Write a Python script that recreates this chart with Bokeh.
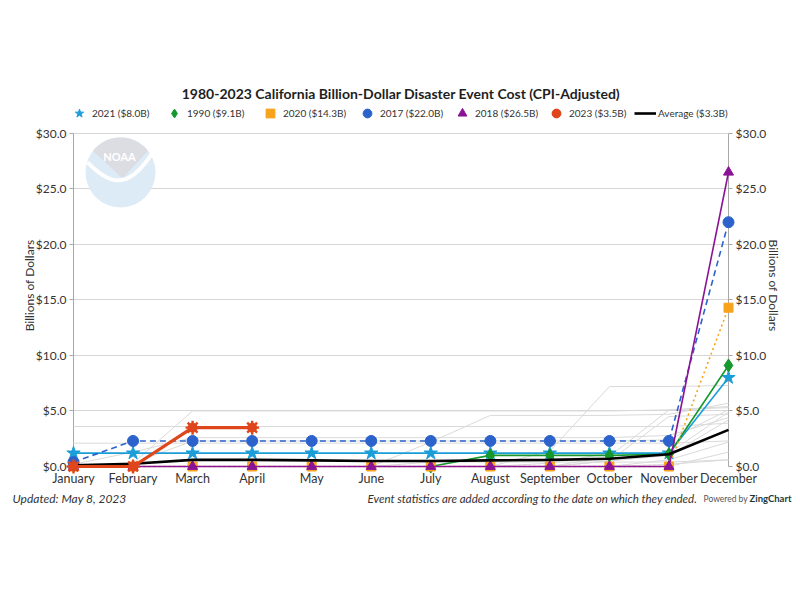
import numpy as np
from bokeh.plotting import figure
from bokeh.models import (Range1d, LinearAxis, FixedTicker, NumeralTickFormatter,
                          Legend, LegendItem)
from bokeh.embed import file_html
from bokeh.resources import INLINE
from bokeh.core.properties import value

# ---- data (cumulative cost in billions of CPI-adjusted dollars) ----
months = ["January", "February", "March", "April", "May", "June",
          "July", "August", "September", "October", "November", "December"]
y_ticks = [0, 5, 10, 15, 20, 25, 30]

cost_2021 = [1.2, 1.2, 1.2, 1.2, 1.2, 1.2, 1.2, 1.2, 1.2, 1.2, 1.2, 8.0]
cost_1990 = [None, None, None, None, None, None, 0.0, 1.0, 1.0, 1.0, 1.1, 9.1]
cost_2020 = [0.0, 0.0, 0.0, 0.0, 0.0, 0.0, 0.0, 0.0, 0.0, 0.0, 0.0, 14.3]
cost_2017 = [0.4, 2.3, 2.3, 2.3, 2.3, 2.3, 2.3, 2.3, 2.3, 2.3, 2.3, 22.0]
cost_2018 = [0.0, 0.0, 0.0, 0.0, 0.0, 0.0, 0.0, 0.0, 0.0, 0.0, 0.0, 26.5]
cost_2023 = [0.0, 0.0, 3.5, 3.5, None, None, None, None, None, None, None, None]
cost_avg = [0.1, 0.25, 0.6, 0.6, 0.55, 0.5, 0.5, 0.55, 0.6, 0.7, 1.1, 3.3]

# remaining years of the 1980-2023 record, drawn as a faint background
other_years = [
    [0.0, 0.3, 5.0, 5.0, 5.0, 5.0, 5.0, 5.0, 5.0, 5.0, 5.1, 5.4],
    [0.0, 0.0, 0.0, 0.0, 0.0, 0.0, 2.2, 4.6, 4.6, 4.6, 4.7, 5.7],
    [0.0, 0.0, 0.0, 0.0, 0.0, 0.0, 0.0, 0.0, 1.4, 7.2, 7.2, 7.3],
    [0.2, 1.3, 2.6, 2.6, 2.6, 2.6, 2.6, 2.6, 2.6, 2.6, 2.8, 4.4],
    [3.6, 3.6, 3.6, 3.6, 3.6, 3.6, 3.6, 3.6, 3.6, 3.6, 3.6, 3.9],
    [2.1, 2.1, 2.1, 2.1, 2.1, 2.1, 2.1, 2.1, 2.1, 2.1, 2.1, 2.3],
    [0.0, 0.0, 0.0, 0.0, 0.0, 0.0, 0.0, 0.0, 0.3, 1.2, 1.2, 4.9],
    [0.0, 0.0, 0.0, 0.0, 0.0, 0.0, 0.0, 0.0, 0.0, 0.5, 1.0, 4.2],
    [0.0, 0.0, 0.0, 0.0, 0.0, 0.0, 0.0, 0.0, 0.0, 0.0, 0.6, 2.2],
    [0.0, 0.0, 0.0, 0.0, 0.0, 0.0, 0.0, 0.0, 0.0, 0.0, 0.0, 1.3],
    [0.0, 0.0, 0.0, 0.0, 0.0, 0.0, 0.4, 0.4, 0.4, 0.4, 0.4, 0.6],
    [0.0, 0.3, 2.3, 2.3, 2.3, 2.3, 2.3, 2.3, 2.3, 2.3, 2.4, 5.1],
    [0.0, 0.0, 0.0, 0.0, 0.0, 0.0, 0.0, 0.0, 0.0, 0.9, 5.1, 5.3],
    [0.0, 0.0, 0.0, 0.0, 0.0, 0.0, 0.0, 0.0, 0.0, 0.5, 4.5, 4.7],
    [0.0, 0.0, 0.0, 0.0, 0.0, 0.0, 0.0, 0.0, 0.0, 0.0, 0.2, 0.6],
]

x = np.arange(len(months))
last = len(months) - 1


def arr(v):
    return np.array([np.nan if a is None else a for a in v], dtype=float)


FONT = "Lato"
TITLE = "1980-2023 California Billion-Dollar Disaster Event Cost (CPI-Adjusted)"
TOP = "overlay"  # draw series above the frame clip so edge markers stay whole

# frame spans January..December and $0..$32.6B (room for the legend row on top)
p = figure(width=800, height=600, output_backend="svg", toolbar_location=None,
           x_range=Range1d(0, last), y_range=Range1d(0, 32.6),
           min_border_left=73, min_border_right=72, min_border_top=104,
           min_border_bottom=134, title=TITLE)
p.outline_line_color = None
p.background_fill_color = "white"
p.xgrid.visible = False
p.ygrid.ticker = FixedTicker(ticks=y_ticks)
p.ygrid.grid_line_color = "#d6d6d6"

p.title.align = "center"
p.title.text_font = FONT
p.title.text_font_size = "14px"
p.title.text_color = "#1e1e1e"
p.title.standoff = 6


# ---- NOAA emblem (decoration, upper left of the plot area) ----
def px(xp):
    return (xp - 73) / (655 / 11)


def py(yp):
    return (466 - yp) / (333 / 30)


cx, cy, r = 120, 172, 35
p.scatter([px(cx)], [py(cy)], size=2 * r, marker="circle",
          fill_color="#dcebf6", line_color=None)
ang = np.linspace(np.radians(142), np.radians(38), 30)
gx = [px(cx + r * np.cos(a)) for a in ang] + [px(cx + 2)]
gy = [py(cy - r * np.sin(a)) for a in ang] + [py(cy + 6)]
p.patch(gx, gy, fill_color="#dcdde3", line_color=None)
sw = np.linspace(0, 1, 30)
swx = [px(cx - 33 + 66 * t) for t in sw]
swy = [py(cy - 10 + 24 * np.sin(np.pi * t * 0.85) - 22 * t * t) for t in sw]
p.line(swx, swy, line_color="white", line_width=4, line_alpha=0.95)
p.text([px(cx - 1)], [py(cy - 16)], text=["NOAA"], text_align="center",
       text_baseline="middle", text_font=value(FONT), text_font_style="bold",
       text_font_size="11px", text_color="white")

# ---- background years ----
for yr in other_years:
    p.line(x, arr(yr), line_color="#dadada", line_width=1, level=TOP)

# ---- highlighted years ----
items = []

c = "#1b9dd8"
p.line(x, arr(cost_2021), line_color=c, line_width=1.6, level=TOP)
m1 = p.scatter(x, arr(cost_2021), marker="star", size=14, fill_color=c, line_color=c, level=TOP)
items.append(LegendItem(label="2021 ($8.0B)", renderers=[m1]))

c = "#16982c"
p.line(x, arr(cost_1990), line_color=c, line_width=1.6, level=TOP)
m2 = p.scatter(x, arr(cost_1990), marker="diamond", size=13, fill_color=c, line_color=c, level=TOP)
items.append(LegendItem(label="1990 ($9.1B)", renderers=[m2]))

c = "#f7a31c"
p.line(x, arr(cost_2020), line_color=c, line_width=1.6, line_dash="2 3", level=TOP)
m3 = p.scatter(x, arr(cost_2020), marker="square", size=9, fill_color=c, line_color=c, level=TOP)
items.append(LegendItem(label="2020 ($14.3B)", renderers=[m3]))

c = "#2b62cb"
p.line(x, arr(cost_2017), line_color=c, line_width=1.6, line_dash="6 4", level=TOP)
m4 = p.scatter(x, arr(cost_2017), marker="circle", size=11, fill_color=c, line_color=c, level=TOP)
items.append(LegendItem(label="2017 ($22.0B)", renderers=[m4]))

c = "#8a1396"
p.line(x, arr(cost_2018), line_color=c, line_width=1.6, level=TOP)
m5 = p.scatter(x, arr(cost_2018), marker="triangle", size=10, fill_color=c, line_color=c, level=TOP)
items.append(LegendItem(label="2018 ($26.5B)", renderers=[m5]))

la = p.line(x, arr(cost_avg), line_color="black", line_width=2.6, level=TOP)

c = "#e0461c"
p.line(x, arr(cost_2023), line_color=c, line_width=3.2, level=TOP)
m6a = p.scatter(x, arr(cost_2023), marker="circle", size=9, fill_color=c, line_color=c, level=TOP)
m6b = p.scatter(x, arr(cost_2023), marker="asterisk", size=14, line_color=c, line_width=2.4, level=TOP)
items.append(LegendItem(label="2023 ($3.5B)", renderers=[m6a, m6b]))
items.append(LegendItem(label="Average ($3.3B)", renderers=[la]))

# one legend entry per slot so the row keeps an even pitch
slot_px = [79, 174, 270, 367, 462, 556, 645]
GLYPH = 22
for item, sx in zip(items, slot_px):
    lg = Legend(items=[item], orientation="horizontal",
                location=(sx - GLYPH // 2 - 73, 466 - 113 - GLYPH // 2),
                padding=0, margin=0, spacing=0, glyph_width=GLYPH,
                glyph_height=GLYPH, label_height=GLYPH, label_standoff=2,
                label_text_font=FONT, label_text_font_size="10px",
                label_text_color="#333333", border_line_color=None,
                background_fill_alpha=0, level=TOP)
    p.add_layout(lg)

# ---- axes ----
fmt = NumeralTickFormatter(format="$0.0")
yl = p.yaxis[0]
yl.ticker = FixedTicker(ticks=y_ticks)
yl.formatter = fmt
yl.bounds = (0, 30)
yl.axis_label = "Billions of Dollars"

yr_axis = LinearAxis(ticker=FixedTicker(ticks=y_ticks), formatter=fmt,
                     bounds=(0, 30), axis_label="Billions of Dollars")
p.add_layout(yr_axis, "right")

for ax in (yl, yr_axis):
    ax.axis_line_color = "#a8a8a8"
    ax.major_tick_line_color = "#a8a8a8"
    ax.major_tick_out = 4
    ax.major_tick_in = 0
    ax.minor_tick_line_color = None
    ax.major_label_standoff = 3
    ax.major_label_text_font = FONT
    ax.major_label_text_font_size = "12px"
    ax.major_label_text_color = "#333333"
    ax.axis_label_text_font = FONT
    ax.axis_label_text_font_size = "12px"
    ax.axis_label_text_font_style = "normal"
    ax.axis_label_text_color = "#333333"
yl.axis_label_standoff = -4
yr_axis.axis_label_standoff = -3

xa = p.xaxis[0]
xa.ticker = FixedTicker(ticks=list(x))
xa.major_label_overrides = {int(i): m for i, m in zip(x, months)}
xa.axis_line_color = None
xa.major_tick_line_color = None
xa.minor_tick_line_color = None
xa.major_tick_out = 0
xa.major_tick_in = 0
xa.major_label_standoff = 4
xa.major_label_text_font = FONT
xa.major_label_text_font_size = "12.5px"
xa.major_label_text_color = "#333333"

# ---- footer notes ----
foot_y = [py(498)]
p.text([px(12)], foot_y, text=["Updated: May 8, 2023"], text_font=value(FONT),
       text_font_style="italic", text_font_size="12px", text_color="#333333",
       text_baseline="middle", level=TOP)
p.text([px(697)], foot_y,
       text=["Event statistics are added according to the date on which they ended."],
       text_font=value(FONT), text_font_style="italic", text_font_size="11.5px",
       text_color="#333333", text_baseline="middle", text_align="right", level=TOP)
p.text([px(703)], foot_y, text=["Powered by"], text_font=value(FONT),
       text_font_size="8.5px", text_color="#555555", text_baseline="middle", level=TOP)
p.text([px(749)], foot_y, text=["ZingChart"], text_font=value(FONT),
       text_font_style="bold", text_font_size="9.5px", text_color="#1b3a3a",
       text_baseline="middle", level=TOP)

open("out.html", "w").write(file_html(p, INLINE))
